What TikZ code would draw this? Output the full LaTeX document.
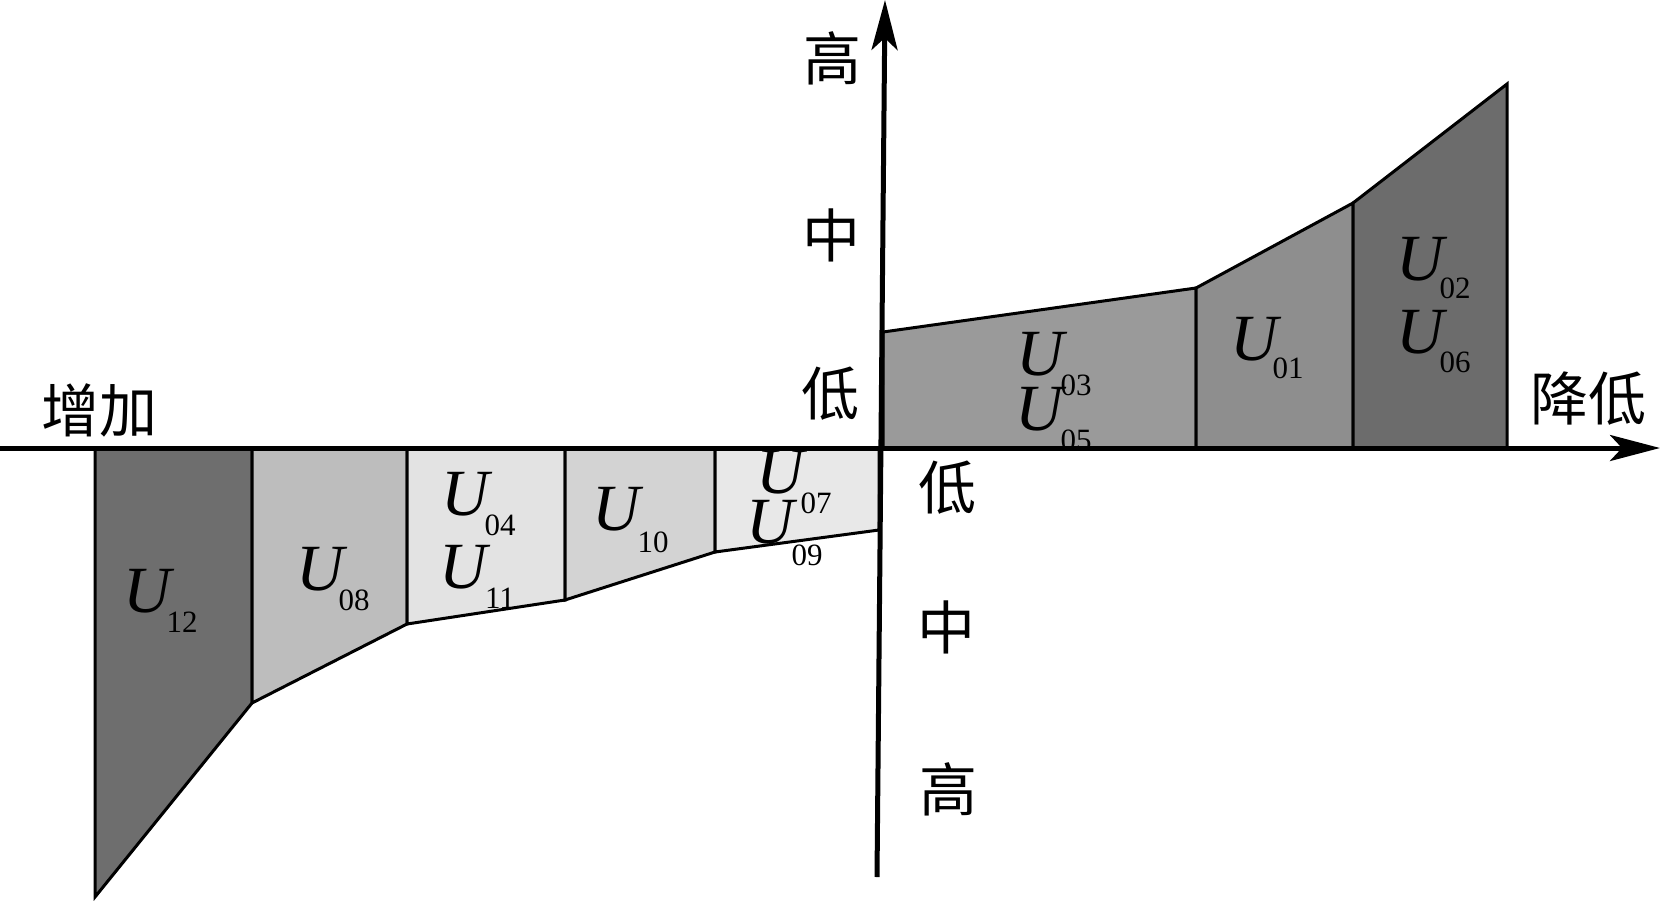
\documentclass[tikz,border=0pt]{standalone}
\usepackage{fontspec}
\setmainfont{Liberation Serif}
\newfontfamily\cjk{Noto Sans CJK SC}
\usetikzlibrary{arrows.meta}
\definecolor{cUtwelve}{HTML}{6E6E6E}
\definecolor{cUeight}{HTML}{BDBDBD}
\definecolor{cUfour}{HTML}{E3E3E3}
\definecolor{cUten}{HTML}{D3D3D3}
\definecolor{cUseven}{HTML}{E8E8E8}
\definecolor{cUthree}{HTML}{9A9A9A}
\definecolor{cUone}{HTML}{8E8E8E}
\definecolor{cUtwo}{HTML}{6C6C6C}
\tikzset{
  region/.style={draw=black, line width=3pt, line join=miter},
  axisline/.style={line width=5pt, draw=black},
  ulab/.style={font=\fontsize{66}{66}\selectfont\itshape, inner sep=0pt, anchor=base},
  sublab/.style={font=\fontsize{31}{31}\selectfont, inner sep=0pt, anchor=base},
  cjklab/.style={font=\cjk\fontsize{58}{58}\selectfont, inner sep=0pt}
}
\begin{document}
\begin{tikzpicture}[x=1pt,y=-1pt]
\useasboundingbox (0,0) rectangle (1660,900);
\fill[white] (0,0) rectangle (1660,900);
% lower-left regions
\filldraw[region, fill=cUtwelve] (95,448) -- (95,897) -- (252,703) -- (252,448) -- cycle;
\filldraw[region, fill=cUeight] (252,448) -- (252,703) -- (407,624) -- (407,448) -- cycle;
\filldraw[region, fill=cUfour] (407,448) -- (407,624) -- (565,600) -- (565,448) -- cycle;
\filldraw[region, fill=cUten] (565,448) -- (565,600) -- (715,552) -- (715,448) -- cycle;
\filldraw[region, fill=cUseven] (715,448) -- (715,552) -- (879,530) -- (879,448) -- cycle;
% upper-right regions
\filldraw[region, fill=cUthree] (883,448) -- (883,332) -- (1196,288) -- (1196,448) -- cycle;
\filldraw[region, fill=cUone] (1196,448) -- (1196,288) -- (1353,203) -- (1353,448) -- cycle;
\filldraw[region, fill=cUtwo] (1353,448) -- (1353,203) -- (1507,84) -- (1507,448) -- cycle;
% labels lower-left
\node[ulab] (u12) at (147,612) {U};
\node[sublab] (s12) at (182,632) {12};
\node[ulab] (u08) at (320,590) {U};
\node[sublab] (s08) at (354,610) {08};
\node[ulab] (u04) at (465,515) {U};
\node[sublab] (s04) at (500,535) {04};
\node[ulab] (u11) at (463,588) {U};
\node[sublab] (s11) at (500,608) {11};
\node[ulab] (u10) at (616,530) {U};
\node[sublab] (s10) at (653,552) {10};
\begin{scope}
\clip (700,451) rectangle (880,700);
\node[ulab] (u07) at (780,493) {U};
\end{scope}
\node[ulab] (u09) at (770,543) {U};
\node[sublab] (s07) at (816,513) {07};
\node[sublab] (s09) at (807,565) {09};
% labels upper-right
\node[ulab] (u03) at (1040,375) {U};
\node[sublab] (s03) at (1076,395) {03};
\node[ulab] (u05) at (1039,430) {U};
\begin{scope}
\clip (900,300) rectangle (1190,445);
\node[sublab] (s05) at (1076,450) {05};
\end{scope}
\node[ulab] (u01) at (1254,360) {U};
\node[sublab] (s01) at (1288,378) {01};
\node[ulab] (u02) at (1420,280) {U};
\node[sublab] (s02) at (1455,298) {02};
\node[ulab] (u06) at (1420,353) {U};
\node[sublab] (s06) at (1455,372) {06};
% axes
\coordinate (xl) at (0,448);
\coordinate (xr) at (1660,448);
\coordinate (yb) at (877,877);
\coordinate (yt) at (885,0);
\draw[axisline, -{Stealth[length=50pt, width=26pt, inset=12pt]}] (xl) -- (xr);
\draw[axisline, -{Stealth[length=50pt, width=26pt, inset=12pt]}] (yb) -- (yt);
% axis words
\node[cjklab] (inc) at (99,410) {增加};
\node[cjklab] (dec) at (1588,399) {降低};
\node[cjklab] (hiT) at (832,58) {高};
\node[cjklab] (miT) at (831,235) {中};
\node[cjklab] (loT) at (830,394) {低};
\node[cjklab] (loB) at (947,488) {低};
\node[cjklab] (miB) at (946,627) {中};
\node[cjklab] (hiB) at (948,789) {高};
\end{tikzpicture}
\end{document}
